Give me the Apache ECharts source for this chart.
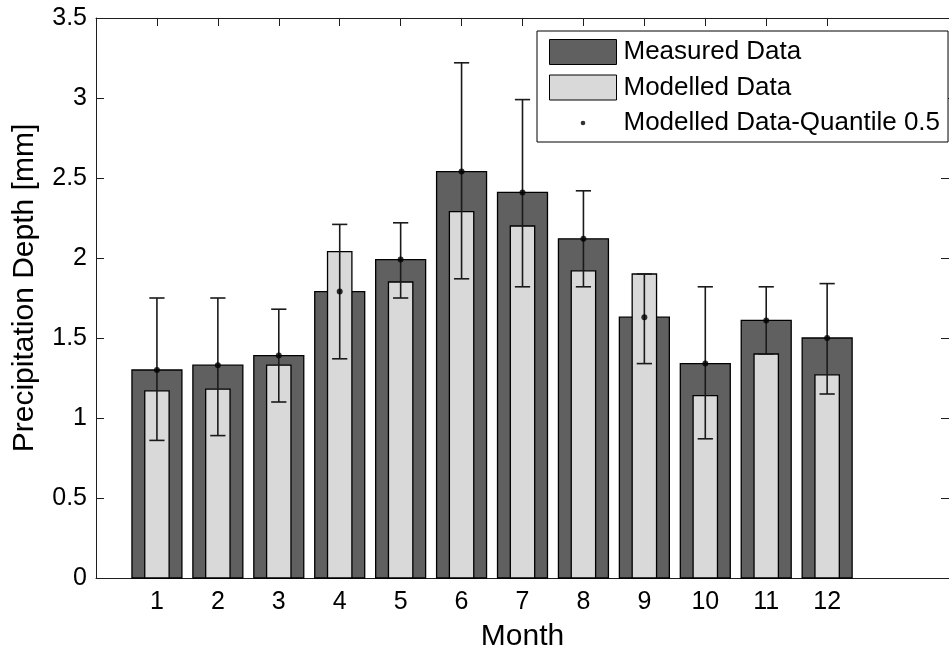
<!DOCTYPE html>
<html><head><meta charset="utf-8">
<script src="https://cdn.jsdelivr.net/npm/echarts@6/dist/echarts.min.js"></script>
<style>html,body{margin:0;padding:0;background:#fff}#c{width:949px;height:657px}</style>
</head><body><div id="c"></div>
<script>
const months = [1,2,3,4,5,6,7,8,9,10,11,12];
const measured = [1.30,1.33,1.39,1.79,1.99,2.54,2.41,2.12,1.63,1.34,1.61,1.50];
const modelled = [1.17,1.18,1.33,2.04,1.85,2.29,2.20,1.92,1.90,1.14,1.40,1.27];
const quantile50 = [1.30,1.33,1.39,1.79,1.99,2.54,2.41,2.12,1.63,1.34,1.61,1.50];
const errLow = [0.86,0.89,1.10,1.37,1.75,1.87,1.82,1.82,1.34,0.87,1.40,1.15];
const errHigh = [1.75,1.75,1.68,2.21,2.22,3.22,2.99,2.42,1.90,1.82,1.82,1.84];
const seriesNames = ['Measured Data','Modelled Data','Modelled Data-Quantile 0.5'];

const FONT = 'Liberation Sans, Arial, sans-serif';
const AX = '#1e1e1e';
const DARK = '#606060', LIGHT = '#d9d9d9';

function barItem(halfW, fill) {
  return function (params, api) {
    const x = api.value(0), y = api.value(1);
    const tl = api.coord([x - halfW, y]);
    const br = api.coord([x + halfW, 0]);
    return { type: 'rect',
      shape: { x: tl[0], y: tl[1], width: br[0] - tl[0], height: br[1] - tl[1] },
      style: { fill: fill, stroke: '#000', lineWidth: 1.3 } };
  };
}
function errItem(params, api) {
  const x = api.value(0), lo = api.value(1), hi = api.value(2);
  const cap = 0.125;
  const pLo = api.coord([x, lo]), pHi = api.coord([x, hi]);
  const l = api.coord([x - cap, lo])[0], r = api.coord([x + cap, lo])[0];
  const st = { stroke: '#1a1a1a', lineWidth: 1.6 };
  return { type: 'group', children: [
    { type: 'line', shape: { x1: pLo[0], y1: pLo[1], x2: pHi[0], y2: pHi[1] }, style: st },
    { type: 'line', shape: { x1: l, y1: pLo[1], x2: r, y2: pLo[1] }, style: st },
    { type: 'line', shape: { x1: l, y1: pHi[1], x2: r, y2: pHi[1] }, style: st }
  ]};
}

const dotSvg = '<svg xmlns="http://www.w3.org/2000/svg" width="67" height="25" viewBox="0 0 67 25"><circle cx="33.5" cy="12.5" r="2.3" fill="#000"/></svg>';
const dotIcon = 'image://data:image/svg+xml;charset=utf-8,' + encodeURIComponent(dotSvg);

const axisCommon = {
  type: 'value',
  axisLine: { show: true, onZero: false, lineStyle: { color: AX, width: 1 } },
  splitLine: { show: false }
};
const tickStyle = { show: true, inside: true, length: 8, lineStyle: { color: AX, width: 1 } };

const chart = echarts.init(document.getElementById('c'), null, { renderer: 'canvas' });
chart.setOption({
  animation: false,
  backgroundColor: '#fff',
  grid: { left: 96, top: 18, width: 858, height: 565, containLabel: false },
  legend: {
    orient: 'vertical', left: 537, top: 31,
    padding: [8, 8, 6, 12],
    itemWidth: 67, itemHeight: 25, itemGap: 9.5,
    borderColor: '#000', borderWidth: 1, backgroundColor: '#fff',
    selectedMode: false,
    textStyle: { fontFamily: FONT, fontSize: 26, color: '#000', padding: [0, 0, 0, 2] },
    data: [
      { name: seriesNames[0], icon: 'rect', itemStyle: { color: DARK, borderColor: '#000', borderWidth: 1 } },
      { name: seriesNames[1], icon: 'rect', itemStyle: { color: LIGHT, borderColor: '#000', borderWidth: 1 } },
      { name: seriesNames[2], icon: dotIcon }
    ]
  },
  xAxis: [
    Object.assign({}, axisCommon, {
      position: 'bottom', min: 0, max: 14,
      name: 'Month', nameLocation: 'middle', nameGap: 44,
      nameTextStyle: { fontFamily: FONT, fontSize: 30, color: '#000' },
      axisTick: Object.assign({ customValues: months }, tickStyle),
      axisLabel: { show: true, customValues: months, fontFamily: FONT, fontSize: 25, color: '#000', margin: 12 }
    }),
    Object.assign({}, axisCommon, {
      position: 'top', min: 0, max: 14,
      axisTick: Object.assign({ customValues: months }, tickStyle),
      axisLabel: { show: false }
    })
  ],
  yAxis: [
    Object.assign({}, axisCommon, {
      position: 'left', min: 0, max: 3.5, interval: 0.5,
      name: 'Precipitation Depth [mm]', nameLocation: 'middle', nameGap: 56,
      nameTextStyle: { fontFamily: FONT, fontSize: 30, color: '#000', padding: [0, 0, 0, 20] },
      axisTick: tickStyle,
      axisLabel: { fontFamily: FONT, fontSize: 25, color: '#000', margin: 9 }
    }),
    Object.assign({}, axisCommon, {
      position: 'right', min: 0, max: 3.5, interval: 0.5,
      axisTick: tickStyle,
      axisLabel: { show: false }
    })
  ],
  series: [
    { name: seriesNames[0], type: 'custom', renderItem: barItem(0.41, DARK), z: 2,
      itemStyle: { color: DARK }, encode: { x: 0, y: 1 },
      data: months.map((m, i) => [m, measured[i]]) },
    { name: seriesNames[1], type: 'custom', renderItem: barItem(0.2, LIGHT), z: 3,
      itemStyle: { color: LIGHT }, encode: { x: 0, y: 1 },
      data: months.map((m, i) => [m, modelled[i]]) },
    { type: 'custom', renderItem: errItem, z: 4, encode: { x: 0, y: [1, 2] },
      data: months.map((m, i) => [m, errLow[i], errHigh[i]]) },
    { name: seriesNames[2], type: 'scatter', z: 5, symbol: 'circle', symbolSize: 6,
      itemStyle: { color: '#000' },
      data: months.map((m, i) => [m, quantile50[i]]) }
  ]
});
</script></body></html>
